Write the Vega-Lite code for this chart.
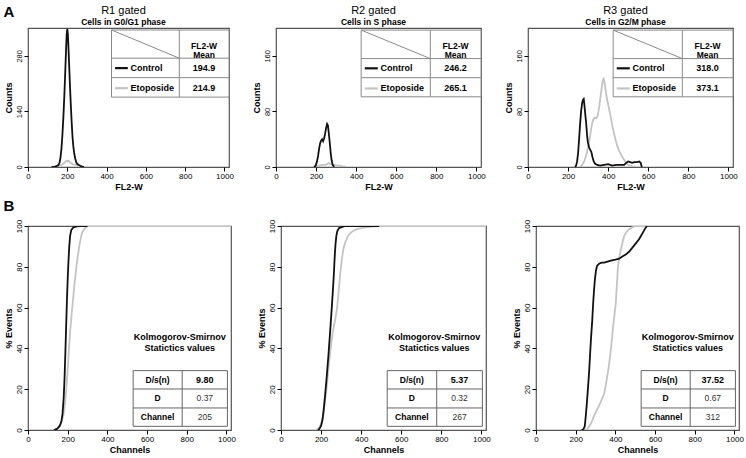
{
"$schema":"https://vega.github.io/schema/vega-lite/v6.json",
"padding":{"left":3,"top":3,"right":3,"bottom":2},
"spacing":6,
"datasets":{
"hist":[
{"p":"R1","s":"Control","x":120,"y":0},{"p":"R1","s":"Control","x":135,"y":1},{"p":"R1","s":"Control","x":145,"y":2},{"p":"R1","s":"Control","x":155,"y":5},{"p":"R1","s":"Control","x":160,"y":10},{"p":"R1","s":"Control","x":165,"y":22},{"p":"R1","s":"Control","x":170,"y":45},{"p":"R1","s":"Control","x":175,"y":80},{"p":"R1","s":"Control","x":180,"y":125},{"p":"R1","s":"Control","x":185,"y":180},{"p":"R1","s":"Control","x":190,"y":245},{"p":"R1","s":"Control","x":194,"y":300},{"p":"R1","s":"Control","x":197,"y":335},{"p":"R1","s":"Control","x":200,"y":348},{"p":"R1","s":"Control","x":203,"y":335},{"p":"R1","s":"Control","x":206,"y":300},{"p":"R1","s":"Control","x":210,"y":250},{"p":"R1","s":"Control","x":214,"y":200},{"p":"R1","s":"Control","x":218,"y":155},{"p":"R1","s":"Control","x":222,"y":115},{"p":"R1","s":"Control","x":226,"y":80},{"p":"R1","s":"Control","x":230,"y":55},{"p":"R1","s":"Control","x":235,"y":35},{"p":"R1","s":"Control","x":240,"y":22},{"p":"R1","s":"Control","x":245,"y":13},{"p":"R1","s":"Control","x":250,"y":8},{"p":"R1","s":"Control","x":258,"y":5},{"p":"R1","s":"Control","x":266,"y":3},{"p":"R1","s":"Control","x":275,"y":1},{"p":"R1","s":"Control","x":285,"y":0},
{"p":"R1","s":"Etoposide","x":140,"y":0},{"p":"R1","s":"Etoposide","x":150,"y":2},{"p":"R1","s":"Etoposide","x":160,"y":4},{"p":"R1","s":"Etoposide","x":170,"y":5},{"p":"R1","s":"Etoposide","x":180,"y":8},{"p":"R1","s":"Etoposide","x":188,"y":12},{"p":"R1","s":"Etoposide","x":195,"y":16},{"p":"R1","s":"Etoposide","x":200,"y":14},{"p":"R1","s":"Etoposide","x":205,"y":16},{"p":"R1","s":"Etoposide","x":210,"y":13},{"p":"R1","s":"Etoposide","x":218,"y":10},{"p":"R1","s":"Etoposide","x":225,"y":8},{"p":"R1","s":"Etoposide","x":235,"y":6},{"p":"R1","s":"Etoposide","x":245,"y":6},{"p":"R1","s":"Etoposide","x":255,"y":5},{"p":"R1","s":"Etoposide","x":265,"y":3},{"p":"R1","s":"Etoposide","x":275,"y":1},{"p":"R1","s":"Etoposide","x":285,"y":0},
{"p":"R2","s":"Control","x":190,"y":0},{"p":"R2","s":"Control","x":198,"y":2},{"p":"R2","s":"Control","x":204,"y":7},{"p":"R2","s":"Control","x":210,"y":16},{"p":"R2","s":"Control","x":215,"y":26},{"p":"R2","s":"Control","x":220,"y":34},{"p":"R2","s":"Control","x":225,"y":38},{"p":"R2","s":"Control","x":230,"y":40},{"p":"R2","s":"Control","x":235,"y":37},{"p":"R2","s":"Control","x":240,"y":41},{"p":"R2","s":"Control","x":245,"y":48},{"p":"R2","s":"Control","x":250,"y":56},{"p":"R2","s":"Control","x":255,"y":62},{"p":"R2","s":"Control","x":259,"y":60},{"p":"R2","s":"Control","x":263,"y":50},{"p":"R2","s":"Control","x":268,"y":36},{"p":"R2","s":"Control","x":273,"y":20},{"p":"R2","s":"Control","x":278,"y":9},{"p":"R2","s":"Control","x":283,"y":3},{"p":"R2","s":"Control","x":290,"y":0},
{"p":"R2","s":"Etoposide","x":185,"y":0},{"p":"R2","s":"Etoposide","x":200,"y":1},{"p":"R2","s":"Etoposide","x":215,"y":2},{"p":"R2","s":"Etoposide","x":230,"y":3},{"p":"R2","s":"Etoposide","x":245,"y":3},{"p":"R2","s":"Etoposide","x":255,"y":4},{"p":"R2","s":"Etoposide","x":262,"y":6},{"p":"R2","s":"Etoposide","x":268,"y":5},{"p":"R2","s":"Etoposide","x":275,"y":4},{"p":"R2","s":"Etoposide","x":285,"y":3},{"p":"R2","s":"Etoposide","x":295,"y":3},{"p":"R2","s":"Etoposide","x":305,"y":2},{"p":"R2","s":"Etoposide","x":320,"y":2},{"p":"R2","s":"Etoposide","x":335,"y":1},{"p":"R2","s":"Etoposide","x":350,"y":0},
{"p":"R3","s":"Control","x":235,"y":0},{"p":"R3","s":"Control","x":240,"y":2},{"p":"R3","s":"Control","x":245,"y":8},{"p":"R3","s":"Control","x":250,"y":20},{"p":"R3","s":"Control","x":255,"y":40},{"p":"R3","s":"Control","x":260,"y":62},{"p":"R3","s":"Control","x":265,"y":80},{"p":"R3","s":"Control","x":270,"y":92},{"p":"R3","s":"Control","x":275,"y":97},{"p":"R3","s":"Control","x":278,"y":98},{"p":"R3","s":"Control","x":282,"y":88},{"p":"R3","s":"Control","x":286,"y":75},{"p":"R3","s":"Control","x":290,"y":64},{"p":"R3","s":"Control","x":295,"y":45},{"p":"R3","s":"Control","x":299,"y":35},{"p":"R3","s":"Control","x":305,"y":28},{"p":"R3","s":"Control","x":310,"y":25},{"p":"R3","s":"Control","x":316,"y":22},{"p":"R3","s":"Control","x":322,"y":14},{"p":"R3","s":"Control","x":328,"y":8},{"p":"R3","s":"Control","x":334,"y":5},{"p":"R3","s":"Control","x":345,"y":3},{"p":"R3","s":"Control","x":360,"y":2},{"p":"R3","s":"Control","x":380,"y":3},{"p":"R3","s":"Control","x":400,"y":4},{"p":"R3","s":"Control","x":420,"y":2},{"p":"R3","s":"Control","x":440,"y":3},{"p":"R3","s":"Control","x":460,"y":3},{"p":"R3","s":"Control","x":480,"y":3},{"p":"R3","s":"Control","x":490,"y":6},{"p":"R3","s":"Control","x":500,"y":8},{"p":"R3","s":"Control","x":510,"y":7},{"p":"R3","s":"Control","x":520,"y":6},{"p":"R3","s":"Control","x":530,"y":7},{"p":"R3","s":"Control","x":545,"y":7},{"p":"R3","s":"Control","x":555,"y":8},{"p":"R3","s":"Control","x":562,"y":6},{"p":"R3","s":"Control","x":568,"y":0},
{"p":"R3","s":"Etoposide","x":260,"y":0},{"p":"R3","s":"Etoposide","x":270,"y":3},{"p":"R3","s":"Etoposide","x":280,"y":8},{"p":"R3","s":"Etoposide","x":290,"y":16},{"p":"R3","s":"Etoposide","x":300,"y":28},{"p":"R3","s":"Etoposide","x":310,"y":45},{"p":"R3","s":"Etoposide","x":318,"y":60},{"p":"R3","s":"Etoposide","x":325,"y":68},{"p":"R3","s":"Etoposide","x":332,"y":71},{"p":"R3","s":"Etoposide","x":340,"y":70},{"p":"R3","s":"Etoposide","x":348,"y":74},{"p":"R3","s":"Etoposide","x":356,"y":88},{"p":"R3","s":"Etoposide","x":362,"y":102},{"p":"R3","s":"Etoposide","x":368,"y":115},{"p":"R3","s":"Etoposide","x":374,"y":125},{"p":"R3","s":"Etoposide","x":378,"y":127},{"p":"R3","s":"Etoposide","x":384,"y":118},{"p":"R3","s":"Etoposide","x":390,"y":105},{"p":"R3","s":"Etoposide","x":396,"y":95},{"p":"R3","s":"Etoposide","x":403,"y":86},{"p":"R3","s":"Etoposide","x":410,"y":76},{"p":"R3","s":"Etoposide","x":417,"y":65},{"p":"R3","s":"Etoposide","x":424,"y":55},{"p":"R3","s":"Etoposide","x":431,"y":46},{"p":"R3","s":"Etoposide","x":438,"y":38},{"p":"R3","s":"Etoposide","x":446,"y":30},{"p":"R3","s":"Etoposide","x":454,"y":24},{"p":"R3","s":"Etoposide","x":462,"y":19},{"p":"R3","s":"Etoposide","x":470,"y":15},{"p":"R3","s":"Etoposide","x":478,"y":11},{"p":"R3","s":"Etoposide","x":487,"y":7},{"p":"R3","s":"Etoposide","x":497,"y":4},{"p":"R3","s":"Etoposide","x":508,"y":2},{"p":"R3","s":"Etoposide","x":522,"y":1},{"p":"R3","s":"Etoposide","x":540,"y":0}
],
"cum":[
{"p":"C1","s":"Control","x":130,"y":0},{"p":"C1","s":"Control","x":146,"y":0.5},{"p":"C1","s":"Control","x":160,"y":2},{"p":"C1","s":"Control","x":168,"y":4},{"p":"C1","s":"Control","x":174,"y":8},{"p":"C1","s":"Control","x":180,"y":16},{"p":"C1","s":"Control","x":184,"y":25},{"p":"C1","s":"Control","x":188,"y":37},{"p":"C1","s":"Control","x":192,"y":50},{"p":"C1","s":"Control","x":196,"y":63},{"p":"C1","s":"Control","x":200,"y":74},{"p":"C1","s":"Control","x":204,"y":83},{"p":"C1","s":"Control","x":208,"y":90},{"p":"C1","s":"Control","x":212,"y":95},{"p":"C1","s":"Control","x":218,"y":98},{"p":"C1","s":"Control","x":228,"y":99.3},{"p":"C1","s":"Control","x":245,"y":99.8},{"p":"C1","s":"Control","x":265,"y":100},{"p":"C1","s":"Control","x":300,"y":100},
{"p":"C1","s":"Etoposide","x":135,"y":0},{"p":"C1","s":"Etoposide","x":150,"y":1},{"p":"C1","s":"Etoposide","x":165,"y":3},{"p":"C1","s":"Etoposide","x":178,"y":7},{"p":"C1","s":"Etoposide","x":188,"y":14},{"p":"C1","s":"Etoposide","x":196,"y":24},{"p":"C1","s":"Etoposide","x":204,"y":36},{"p":"C1","s":"Etoposide","x":212,"y":48},{"p":"C1","s":"Etoposide","x":220,"y":57},{"p":"C1","s":"Etoposide","x":228,"y":65},{"p":"C1","s":"Etoposide","x":236,"y":73},{"p":"C1","s":"Etoposide","x":244,"y":80},{"p":"C1","s":"Etoposide","x":252,"y":86},{"p":"C1","s":"Etoposide","x":260,"y":91},{"p":"C1","s":"Etoposide","x":268,"y":95},{"p":"C1","s":"Etoposide","x":276,"y":97.5},{"p":"C1","s":"Etoposide","x":290,"y":99.3},{"p":"C1","s":"Etoposide","x":305,"y":100},{"p":"C1","s":"Etoposide","x":1023,"y":100},
{"p":"C2","s":"Control","x":185,"y":0},{"p":"C2","s":"Control","x":191,"y":0.5},{"p":"C2","s":"Control","x":200,"y":2},{"p":"C2","s":"Control","x":207,"y":5},{"p":"C2","s":"Control","x":212,"y":9},{"p":"C2","s":"Control","x":220,"y":17},{"p":"C2","s":"Control","x":228,"y":26},{"p":"C2","s":"Control","x":237,"y":37},{"p":"C2","s":"Control","x":245,"y":48},{"p":"C2","s":"Control","x":252,"y":58},{"p":"C2","s":"Control","x":258,"y":67},{"p":"C2","s":"Control","x":263,"y":75},{"p":"C2","s":"Control","x":268,"y":85},{"p":"C2","s":"Control","x":272,"y":91},{"p":"C2","s":"Control","x":276,"y":95},{"p":"C2","s":"Control","x":281,"y":97.5},{"p":"C2","s":"Control","x":290,"y":99},{"p":"C2","s":"Control","x":320,"y":100},{"p":"C2","s":"Control","x":490,"y":100},
{"p":"C2","s":"Etoposide","x":175,"y":0},{"p":"C2","s":"Etoposide","x":190,"y":1},{"p":"C2","s":"Etoposide","x":200,"y":3},{"p":"C2","s":"Etoposide","x":210,"y":7},{"p":"C2","s":"Etoposide","x":220,"y":14},{"p":"C2","s":"Etoposide","x":230,"y":23},{"p":"C2","s":"Etoposide","x":240,"y":33},{"p":"C2","s":"Etoposide","x":250,"y":42},{"p":"C2","s":"Etoposide","x":260,"y":49},{"p":"C2","s":"Etoposide","x":270,"y":54},{"p":"C2","s":"Etoposide","x":279,"y":59},{"p":"C2","s":"Etoposide","x":288,"y":68},{"p":"C2","s":"Etoposide","x":296,"y":77},{"p":"C2","s":"Etoposide","x":304,"y":84},{"p":"C2","s":"Etoposide","x":312,"y":89},{"p":"C2","s":"Etoposide","x":322,"y":92.5},{"p":"C2","s":"Etoposide","x":337,"y":95.5},{"p":"C2","s":"Etoposide","x":355,"y":97.3},{"p":"C2","s":"Etoposide","x":386,"y":98.7},{"p":"C2","s":"Etoposide","x":430,"y":99.5},{"p":"C2","s":"Etoposide","x":486,"y":100},{"p":"C2","s":"Etoposide","x":1023,"y":100},
{"p":"C3","s":"Control","x":230,"y":0},{"p":"C3","s":"Control","x":240,"y":0.5},{"p":"C3","s":"Control","x":246,"y":2},{"p":"C3","s":"Control","x":251,"y":7},{"p":"C3","s":"Control","x":257,"y":14},{"p":"C3","s":"Control","x":263,"y":22},{"p":"C3","s":"Control","x":268,"y":29},{"p":"C3","s":"Control","x":273,"y":38},{"p":"C3","s":"Control","x":278,"y":46},{"p":"C3","s":"Control","x":283,"y":53},{"p":"C3","s":"Control","x":288,"y":62},{"p":"C3","s":"Control","x":292,"y":68},{"p":"C3","s":"Control","x":297,"y":74},{"p":"C3","s":"Control","x":302,"y":78},{"p":"C3","s":"Control","x":308,"y":80.5},{"p":"C3","s":"Control","x":318,"y":81.5},{"p":"C3","s":"Control","x":330,"y":82},{"p":"C3","s":"Control","x":343,"y":82},{"p":"C3","s":"Control","x":360,"y":82.5},{"p":"C3","s":"Control","x":377,"y":83},{"p":"C3","s":"Control","x":400,"y":83.5},{"p":"C3","s":"Control","x":419,"y":84},{"p":"C3","s":"Control","x":435,"y":85},{"p":"C3","s":"Control","x":452,"y":86},{"p":"C3","s":"Control","x":470,"y":87.5},{"p":"C3","s":"Control","x":486,"y":89.4},{"p":"C3","s":"Control","x":503,"y":91.5},{"p":"C3","s":"Control","x":520,"y":93.6},{"p":"C3","s":"Control","x":537,"y":96.5},{"p":"C3","s":"Control","x":553,"y":99.3},{"p":"C3","s":"Control","x":560,"y":100},
{"p":"C3","s":"Etoposide","x":248,"y":0},{"p":"C3","s":"Etoposide","x":258,"y":0.5},{"p":"C3","s":"Etoposide","x":270,"y":2},{"p":"C3","s":"Etoposide","x":283,"y":4.5},{"p":"C3","s":"Etoposide","x":293,"y":7},{"p":"C3","s":"Etoposide","x":305,"y":9.5},{"p":"C3","s":"Etoposide","x":318,"y":12},{"p":"C3","s":"Etoposide","x":332,"y":15},{"p":"C3","s":"Etoposide","x":344,"y":18},{"p":"C3","s":"Etoposide","x":355,"y":24},{"p":"C3","s":"Etoposide","x":365,"y":30},{"p":"C3","s":"Etoposide","x":372,"y":35},{"p":"C3","s":"Etoposide","x":380,"y":42},{"p":"C3","s":"Etoposide","x":388,"y":50},{"p":"C3","s":"Etoposide","x":396,"y":57},{"p":"C3","s":"Etoposide","x":402,"y":62},{"p":"C3","s":"Etoposide","x":408,"y":72},{"p":"C3","s":"Etoposide","x":413,"y":80},{"p":"C3","s":"Etoposide","x":420,"y":85},{"p":"C3","s":"Etoposide","x":427,"y":88},{"p":"C3","s":"Etoposide","x":436,"y":92},{"p":"C3","s":"Etoposide","x":444,"y":95},{"p":"C3","s":"Etoposide","x":456,"y":97},{"p":"C3","s":"Etoposide","x":469,"y":98.4},{"p":"C3","s":"Etoposide","x":485,"y":99.3},{"p":"C3","s":"Etoposide","x":502,"y":100},{"p":"C3","s":"Etoposide","x":560,"y":100}
],
"meanTab":[
{"p":"R1","s":"Control","m":"194.9"},{"p":"R1","s":"Etoposide","m":"214.9"},
{"p":"R2","s":"Control","m":"246.2"},{"p":"R2","s":"Etoposide","m":"265.1"},
{"p":"R3","s":"Control","m":"318.0"},{"p":"R3","s":"Etoposide","m":"373.1"}
],
"ksTab":[
{"p":"C1","k":"D/s(n)","v":"9.80"},{"p":"C1","k":"D","v":"0.37"},{"p":"C1","k":"Channel","v":"205"},
{"p":"C2","k":"D/s(n)","v":"5.37"},{"p":"C2","k":"D","v":"0.32"},{"p":"C2","k":"Channel","v":"267"},
{"p":"C3","k":"D/s(n)","v":"37.52"},{"p":"C3","k":"D","v":"0.67"},{"p":"C3","k":"Channel","v":"312"}
]
},
"vconcat":[
{
"title":{"text":"A","anchor":"start","fontSize":15,"fontWeight":"bold","frame":"bounds","dx":0,"dy":16,"offset":0},
"spacing":17,
"hconcat":[
{
"width":201,"height":139,
"title":{"text":"R1 gated","subtitle":"Cells in G0/G1 phase"},
"layer":[
{"data":{"name":"hist"},"transform":[{"filter":"datum.p==='R1' && datum.s==='Etoposide'"}],"mark":{"type":"line","color":"#c4c4c4","strokeWidth":1.8,"clip":true},
"encoding":{
"x":{"field":"x","type":"quantitative","scale":{"domain":[0,1023],"nice":false,"zero":false},"axis":{"title":"FL2-W","format":"d","values":[0,50,100,150,200,250,300,350,400,450,500,550,600,650,700,750,800,850,900,950,1000],"labelExpr":"datum.value % 200 === 0 ? datum.label : ''","tickSize":{"condition":{"test":"datum.value % 200 === 0","value":4},"value":2.5}}},
"y":{"field":"y","type":"quantitative","scale":{"domain":[0,350],"nice":false},"axis":{"title":"Counts","format":"d","labelFontSize":7.5,"values":[0,70,140,210,280,350],"tickSize":4}}}},
{"data":{"name":"hist"},"transform":[{"filter":"datum.p==='R1' && datum.s==='Control'"}],"mark":{"type":"line","color":"#111111","strokeWidth":1.8,"clip":true},"encoding":{"x":{"field":"x","type":"quantitative"},"y":{"field":"y","type":"quantitative"}}},
{"data":{"values":[{}]},"mark":{"type":"rect","fill":"#ffffff","stroke":"#8a8a8a","strokeWidth":1},"encoding":{"x":{"datum":425},"x2":{"datum":1023},"y":{"datum":345},"y2":{"datum":176}}},
{"data":{"values":[{}]},"mark":{"type":"rule","stroke":"#8a8a8a","strokeWidth":1},"encoding":{"x":{"datum":425},"x2":{"datum":1023},"y":{"datum":274}}},
{"data":{"values":[{}]},"mark":{"type":"rule","stroke":"#8a8a8a","strokeWidth":1},"encoding":{"x":{"datum":425},"x2":{"datum":1023},"y":{"datum":225}}},
{"data":{"values":[{}]},"mark":{"type":"rule","stroke":"#8a8a8a","strokeWidth":1},"encoding":{"x":{"datum":770},"y":{"datum":345},"y2":{"datum":176}}},
{"data":{"values":[{}]},"mark":{"type":"rule","stroke":"#8a8a8a","strokeWidth":1},"encoding":{"x":{"datum":425},"x2":{"datum":770},"y":{"datum":345},"y2":{"datum":274}}},
{"data":{"values":[{}]},"mark":{"type":"text","text":["FL2-W","Mean"],"fontWeight":"bold","fontSize":8.5,"lineHeight":8.5,"baseline":"middle","align":"center"},"encoding":{"x":{"datum":896},"y":{"datum":304}}},
{"data":{"values":[{}]},"mark":{"type":"rule","stroke":"#111111","strokeWidth":2.2},"encoding":{"x":{"datum":443},"x2":{"datum":508},"y":{"datum":249}}},
{"data":{"values":[{}]},"mark":{"type":"rule","stroke":"#c4c4c4","strokeWidth":2.2},"encoding":{"x":{"datum":443},"x2":{"datum":508},"y":{"datum":198.5}}},
{"data":{"name":"meanTab"},"transform":[{"filter":"datum.p==='R1' && datum.s==='Control'"}],"mark":{"type":"text","align":"left","baseline":"middle","fontWeight":"bold","fontSize":9},"encoding":{"x":{"datum":522},"y":{"datum":249},"text":{"field":"s"}}},
{"data":{"name":"meanTab"},"transform":[{"filter":"datum.p==='R1' && datum.s==='Control'"}],"mark":{"type":"text","align":"center","baseline":"middle","fontWeight":"bold","fontSize":9},"encoding":{"x":{"datum":896},"y":{"datum":249},"text":{"field":"m"}}},
{"data":{"name":"meanTab"},"transform":[{"filter":"datum.p==='R1' && datum.s==='Etoposide'"}],"mark":{"type":"text","align":"left","baseline":"middle","fontWeight":"bold","fontSize":9},"encoding":{"x":{"datum":522},"y":{"datum":198.5},"text":{"field":"s"}}},
{"data":{"name":"meanTab"},"transform":[{"filter":"datum.p==='R1' && datum.s==='Etoposide'"}],"mark":{"type":"text","align":"center","baseline":"middle","fontWeight":"bold","fontSize":9},"encoding":{"x":{"datum":896},"y":{"datum":198.5},"text":{"field":"m"}}}
]
},
{
"width":205,"height":139,
"title":{"text":"R2 gated","subtitle":"Cells in S phase"},
"layer":[
{"data":{"name":"hist"},"transform":[{"filter":"datum.p==='R2' && datum.s==='Etoposide'"}],"mark":{"type":"line","color":"#c4c4c4","strokeWidth":1.8,"clip":true},
"encoding":{
"x":{"field":"x","type":"quantitative","scale":{"domain":[0,1023],"nice":false,"zero":false},"axis":{"title":"FL2-W","format":"d","values":[0,50,100,150,200,250,300,350,400,450,500,550,600,650,700,750,800,850,900,950,1000],"labelExpr":"datum.value % 200 === 0 ? datum.label : ''","tickSize":{"condition":{"test":"datum.value % 200 === 0","value":4},"value":2.5}}},
"y":{"field":"y","type":"quantitative","scale":{"domain":[0,200],"nice":false},"axis":{"title":"Counts","format":"d","labelFontSize":7.5,"values":[0,40,80,120,160,200],"tickSize":4}}}},
{"data":{"name":"hist"},"transform":[{"filter":"datum.p==='R2' && datum.s==='Control'"}],"mark":{"type":"line","color":"#111111","strokeWidth":1.8,"clip":true},"encoding":{"x":{"field":"x","type":"quantitative"},"y":{"field":"y","type":"quantitative"}}},
{"data":{"values":[{}]},"mark":{"type":"rect","fill":"#ffffff","stroke":"#8a8a8a","strokeWidth":1},"encoding":{"x":{"datum":425},"x2":{"datum":1023},"y":{"datum":197},"y2":{"datum":101}}},
{"data":{"values":[{}]},"mark":{"type":"rule","stroke":"#8a8a8a","strokeWidth":1},"encoding":{"x":{"datum":425},"x2":{"datum":1023},"y":{"datum":156}}},
{"data":{"values":[{}]},"mark":{"type":"rule","stroke":"#8a8a8a","strokeWidth":1},"encoding":{"x":{"datum":425},"x2":{"datum":1023},"y":{"datum":128.5}}},
{"data":{"values":[{}]},"mark":{"type":"rule","stroke":"#8a8a8a","strokeWidth":1},"encoding":{"x":{"datum":770},"y":{"datum":197},"y2":{"datum":101}}},
{"data":{"values":[{}]},"mark":{"type":"rule","stroke":"#8a8a8a","strokeWidth":1},"encoding":{"x":{"datum":425},"x2":{"datum":770},"y":{"datum":197},"y2":{"datum":156}}},
{"data":{"values":[{}]},"mark":{"type":"text","text":["FL2-W","Mean"],"fontWeight":"bold","fontSize":8.5,"lineHeight":8.5,"baseline":"middle","align":"center"},"encoding":{"x":{"datum":896},"y":{"datum":173.5}}},
{"data":{"values":[{}]},"mark":{"type":"rule","stroke":"#111111","strokeWidth":2.2},"encoding":{"x":{"datum":443},"x2":{"datum":508},"y":{"datum":142}}},
{"data":{"values":[{}]},"mark":{"type":"rule","stroke":"#c4c4c4","strokeWidth":2.2},"encoding":{"x":{"datum":443},"x2":{"datum":508},"y":{"datum":113}}},
{"data":{"name":"meanTab"},"transform":[{"filter":"datum.p==='R2' && datum.s==='Control'"}],"mark":{"type":"text","align":"left","baseline":"middle","fontWeight":"bold","fontSize":9},"encoding":{"x":{"datum":522},"y":{"datum":142},"text":{"field":"s"}}},
{"data":{"name":"meanTab"},"transform":[{"filter":"datum.p==='R2' && datum.s==='Control'"}],"mark":{"type":"text","align":"center","baseline":"middle","fontWeight":"bold","fontSize":9},"encoding":{"x":{"datum":896},"y":{"datum":142},"text":{"field":"m"}}},
{"data":{"name":"meanTab"},"transform":[{"filter":"datum.p==='R2' && datum.s==='Etoposide'"}],"mark":{"type":"text","align":"left","baseline":"middle","fontWeight":"bold","fontSize":9},"encoding":{"x":{"datum":522},"y":{"datum":113},"text":{"field":"s"}}},
{"data":{"name":"meanTab"},"transform":[{"filter":"datum.p==='R2' && datum.s==='Etoposide'"}],"mark":{"type":"text","align":"center","baseline":"middle","fontWeight":"bold","fontSize":9},"encoding":{"x":{"datum":896},"y":{"datum":113},"text":{"field":"m"}}}
]
},
{
"width":205,"height":139,
"title":{"text":"R3 gated","subtitle":"Cells in G2/M phase"},
"layer":[
{"data":{"name":"hist"},"transform":[{"filter":"datum.p==='R3' && datum.s==='Etoposide'"}],"mark":{"type":"line","color":"#c4c4c4","strokeWidth":1.8,"clip":true},
"encoding":{
"x":{"field":"x","type":"quantitative","scale":{"domain":[0,1023],"nice":false,"zero":false},"axis":{"title":"FL2-W","format":"d","values":[0,50,100,150,200,250,300,350,400,450,500,550,600,650,700,750,800,850,900,950,1000],"labelExpr":"datum.value % 200 === 0 ? datum.label : ''","tickSize":{"condition":{"test":"datum.value % 200 === 0","value":4},"value":2.5}}},
"y":{"field":"y","type":"quantitative","scale":{"domain":[0,200],"nice":false},"axis":{"title":"Counts","format":"d","labelFontSize":7.5,"values":[0,40,80,120,160,200],"tickSize":4}}}},
{"data":{"name":"hist"},"transform":[{"filter":"datum.p==='R3' && datum.s==='Control'"}],"mark":{"type":"line","color":"#111111","strokeWidth":1.8,"clip":true},"encoding":{"x":{"field":"x","type":"quantitative"},"y":{"field":"y","type":"quantitative"}}},
{"data":{"values":[{}]},"mark":{"type":"rect","fill":"#ffffff","stroke":"#8a8a8a","strokeWidth":1},"encoding":{"x":{"datum":425},"x2":{"datum":1023},"y":{"datum":197},"y2":{"datum":101}}},
{"data":{"values":[{}]},"mark":{"type":"rule","stroke":"#8a8a8a","strokeWidth":1},"encoding":{"x":{"datum":425},"x2":{"datum":1023},"y":{"datum":156}}},
{"data":{"values":[{}]},"mark":{"type":"rule","stroke":"#8a8a8a","strokeWidth":1},"encoding":{"x":{"datum":425},"x2":{"datum":1023},"y":{"datum":128.5}}},
{"data":{"values":[{}]},"mark":{"type":"rule","stroke":"#8a8a8a","strokeWidth":1},"encoding":{"x":{"datum":770},"y":{"datum":197},"y2":{"datum":101}}},
{"data":{"values":[{}]},"mark":{"type":"rule","stroke":"#8a8a8a","strokeWidth":1},"encoding":{"x":{"datum":425},"x2":{"datum":770},"y":{"datum":197},"y2":{"datum":156}}},
{"data":{"values":[{}]},"mark":{"type":"text","text":["FL2-W","Mean"],"fontWeight":"bold","fontSize":8.5,"lineHeight":8.5,"baseline":"middle","align":"center"},"encoding":{"x":{"datum":896},"y":{"datum":173.5}}},
{"data":{"values":[{}]},"mark":{"type":"rule","stroke":"#111111","strokeWidth":2.2},"encoding":{"x":{"datum":443},"x2":{"datum":508},"y":{"datum":142}}},
{"data":{"values":[{}]},"mark":{"type":"rule","stroke":"#c4c4c4","strokeWidth":2.2},"encoding":{"x":{"datum":443},"x2":{"datum":508},"y":{"datum":113}}},
{"data":{"name":"meanTab"},"transform":[{"filter":"datum.p==='R3' && datum.s==='Control'"}],"mark":{"type":"text","align":"left","baseline":"middle","fontWeight":"bold","fontSize":9},"encoding":{"x":{"datum":522},"y":{"datum":142},"text":{"field":"s"}}},
{"data":{"name":"meanTab"},"transform":[{"filter":"datum.p==='R3' && datum.s==='Control'"}],"mark":{"type":"text","align":"center","baseline":"middle","fontWeight":"bold","fontSize":9},"encoding":{"x":{"datum":896},"y":{"datum":142},"text":{"field":"m"}}},
{"data":{"name":"meanTab"},"transform":[{"filter":"datum.p==='R3' && datum.s==='Etoposide'"}],"mark":{"type":"text","align":"left","baseline":"middle","fontWeight":"bold","fontSize":9},"encoding":{"x":{"datum":522},"y":{"datum":113},"text":{"field":"s"}}},
{"data":{"name":"meanTab"},"transform":[{"filter":"datum.p==='R3' && datum.s==='Etoposide'"}],"mark":{"type":"text","align":"center","baseline":"middle","fontWeight":"bold","fontSize":9},"encoding":{"x":{"datum":896},"y":{"datum":113},"text":{"field":"m"}}}
]
}
]
},
{
"title":{"text":"B","anchor":"start","fontSize":15,"fontWeight":"bold","frame":"bounds","dx":0,"offset":5},
"spacing":20,
"hconcat":[
{
"width":203,"height":204,
"layer":[
{"data":{"name":"cum"},"transform":[{"filter":"datum.p==='C1' && datum.s==='Etoposide'"}],"mark":{"type":"line","color":"#c4c4c4","strokeWidth":1.8,"clip":true},
"encoding":{
"x":{"field":"x","type":"quantitative","scale":{"domain":[0,1023],"nice":false,"zero":false},"axis":{"title":"Channels","format":"d","values":[0,50,100,150,200,250,300,350,400,450,500,550,600,650,700,750,800,850,900,950,1000],"labelExpr":"datum.value % 200 === 0 ? datum.label : ''","tickSize":{"condition":{"test":"datum.value % 200 === 0","value":4},"value":2.5}}},
"y":{"field":"y","type":"quantitative","scale":{"domain":[0,100],"nice":false},"axis":{"title":"% Events","format":"d","values":[0,20,40,60,80,100],"tickSize":4}}}},
{"data":{"name":"cum"},"transform":[{"filter":"datum.p==='C1' && datum.s==='Control'"}],"mark":{"type":"line","color":"#111111","strokeWidth":1.8,"clip":true},"encoding":{"x":{"field":"x","type":"quantitative"},"y":{"field":"y","type":"quantitative"}}},
{"data":{"values":[{}]},"mark":{"type":"text","text":["Kolmogorov-Smirnov","Statictics values"],"fontWeight":"bold","fontSize":9,"lineHeight":10.5,"baseline":"middle","align":"center"},"encoding":{"x":{"datum":765},"y":{"datum":45.5}}},
{"data":{"values":[{}]},"mark":{"type":"rect","fill":"#ffffff","stroke":"#666666","strokeWidth":1},"encoding":{"x":{"datum":530},"x2":{"datum":1005},"y":{"datum":29.1},"y2":{"datum":1.8}}},
{"data":{"values":[{}]},"mark":{"type":"rule","stroke":"#666666","strokeWidth":1},"encoding":{"x":{"datum":530},"x2":{"datum":1005},"y":{"datum":20.1}}},
{"data":{"values":[{}]},"mark":{"type":"rule","stroke":"#666666","strokeWidth":1},"encoding":{"x":{"datum":530},"x2":{"datum":1005},"y":{"datum":10.8}}},
{"data":{"values":[{}]},"mark":{"type":"rule","stroke":"#666666","strokeWidth":1},"encoding":{"x":{"datum":777},"y":{"datum":29.1},"y2":{"datum":1.8}}},
{"data":{"name":"ksTab"},"transform":[{"filter":"datum.p==='C1' && datum.k==='D/s(n)'"}],"mark":{"type":"text","align":"center","baseline":"middle","fontWeight":"bold","fontSize":8.5},"encoding":{"x":{"datum":653},"y":{"datum":24.6},"text":{"field":"k"}}},
{"data":{"name":"ksTab"},"transform":[{"filter":"datum.p==='C1' && datum.k==='D/s(n)'"}],"mark":{"type":"text","align":"center","baseline":"middle","fontWeight":"bold","fontSize":9},"encoding":{"x":{"datum":891},"y":{"datum":24.6},"text":{"field":"v"}}},
{"data":{"name":"ksTab"},"transform":[{"filter":"datum.p==='C1' && datum.k==='D'"}],"mark":{"type":"text","align":"center","baseline":"middle","fontWeight":"bold","fontSize":8.5},"encoding":{"x":{"datum":653},"y":{"datum":15.5},"text":{"field":"k"}}},
{"data":{"name":"ksTab"},"transform":[{"filter":"datum.p==='C1' && datum.k==='D'"}],"mark":{"type":"text","align":"center","baseline":"middle","fontSize":8.5,"color":"#333333"},"encoding":{"x":{"datum":891},"y":{"datum":15.5},"text":{"field":"v"}}},
{"data":{"name":"ksTab"},"transform":[{"filter":"datum.p==='C1' && datum.k==='Channel'"}],"mark":{"type":"text","align":"center","baseline":"middle","fontWeight":"bold","fontSize":8.5},"encoding":{"x":{"datum":653},"y":{"datum":6.4},"text":{"field":"k"}}},
{"data":{"name":"ksTab"},"transform":[{"filter":"datum.p==='C1' && datum.k==='Channel'"}],"mark":{"type":"text","align":"center","baseline":"middle","fontSize":8.5,"color":"#333333"},"encoding":{"x":{"datum":891},"y":{"datum":6.4},"text":{"field":"v"}}}
]
},
{
"width":205,"height":204,
"layer":[
{"data":{"name":"cum"},"transform":[{"filter":"datum.p==='C2' && datum.s==='Etoposide'"}],"mark":{"type":"line","color":"#c4c4c4","strokeWidth":1.8,"clip":true},
"encoding":{
"x":{"field":"x","type":"quantitative","scale":{"domain":[0,1023],"nice":false,"zero":false},"axis":{"title":"Channels","format":"d","values":[0,50,100,150,200,250,300,350,400,450,500,550,600,650,700,750,800,850,900,950,1000],"labelExpr":"datum.value % 200 === 0 ? datum.label : ''","tickSize":{"condition":{"test":"datum.value % 200 === 0","value":4},"value":2.5}}},
"y":{"field":"y","type":"quantitative","scale":{"domain":[0,100],"nice":false},"axis":{"title":"% Events","format":"d","values":[0,20,40,60,80,100],"tickSize":4}}}},
{"data":{"name":"cum"},"transform":[{"filter":"datum.p==='C2' && datum.s==='Control'"}],"mark":{"type":"line","color":"#111111","strokeWidth":1.8,"clip":true},"encoding":{"x":{"field":"x","type":"quantitative"},"y":{"field":"y","type":"quantitative"}}},
{"data":{"values":[{}]},"mark":{"type":"text","text":["Kolmogorov-Smirnov","Statictics values"],"fontWeight":"bold","fontSize":9,"lineHeight":10.5,"baseline":"middle","align":"center"},"encoding":{"x":{"datum":765},"y":{"datum":45.5}}},
{"data":{"values":[{}]},"mark":{"type":"rect","fill":"#ffffff","stroke":"#666666","strokeWidth":1},"encoding":{"x":{"datum":530},"x2":{"datum":1005},"y":{"datum":29.1},"y2":{"datum":1.8}}},
{"data":{"values":[{}]},"mark":{"type":"rule","stroke":"#666666","strokeWidth":1},"encoding":{"x":{"datum":530},"x2":{"datum":1005},"y":{"datum":20.1}}},
{"data":{"values":[{}]},"mark":{"type":"rule","stroke":"#666666","strokeWidth":1},"encoding":{"x":{"datum":530},"x2":{"datum":1005},"y":{"datum":10.8}}},
{"data":{"values":[{}]},"mark":{"type":"rule","stroke":"#666666","strokeWidth":1},"encoding":{"x":{"datum":777},"y":{"datum":29.1},"y2":{"datum":1.8}}},
{"data":{"name":"ksTab"},"transform":[{"filter":"datum.p==='C2' && datum.k==='D/s(n)'"}],"mark":{"type":"text","align":"center","baseline":"middle","fontWeight":"bold","fontSize":8.5},"encoding":{"x":{"datum":653},"y":{"datum":24.6},"text":{"field":"k"}}},
{"data":{"name":"ksTab"},"transform":[{"filter":"datum.p==='C2' && datum.k==='D/s(n)'"}],"mark":{"type":"text","align":"center","baseline":"middle","fontWeight":"bold","fontSize":9},"encoding":{"x":{"datum":891},"y":{"datum":24.6},"text":{"field":"v"}}},
{"data":{"name":"ksTab"},"transform":[{"filter":"datum.p==='C2' && datum.k==='D'"}],"mark":{"type":"text","align":"center","baseline":"middle","fontWeight":"bold","fontSize":8.5},"encoding":{"x":{"datum":653},"y":{"datum":15.5},"text":{"field":"k"}}},
{"data":{"name":"ksTab"},"transform":[{"filter":"datum.p==='C2' && datum.k==='D'"}],"mark":{"type":"text","align":"center","baseline":"middle","fontSize":8.5,"color":"#333333"},"encoding":{"x":{"datum":891},"y":{"datum":15.5},"text":{"field":"v"}}},
{"data":{"name":"ksTab"},"transform":[{"filter":"datum.p==='C2' && datum.k==='Channel'"}],"mark":{"type":"text","align":"center","baseline":"middle","fontWeight":"bold","fontSize":8.5},"encoding":{"x":{"datum":653},"y":{"datum":6.4},"text":{"field":"k"}}},
{"data":{"name":"ksTab"},"transform":[{"filter":"datum.p==='C2' && datum.k==='Channel'"}],"mark":{"type":"text","align":"center","baseline":"middle","fontSize":8.5,"color":"#333333"},"encoding":{"x":{"datum":891},"y":{"datum":6.4},"text":{"field":"v"}}}
]
},
{
"width":203,"height":204,
"layer":[
{"data":{"name":"cum"},"transform":[{"filter":"datum.p==='C3' && datum.s==='Etoposide'"}],"mark":{"type":"line","color":"#c4c4c4","strokeWidth":1.8,"clip":true},
"encoding":{
"x":{"field":"x","type":"quantitative","scale":{"domain":[0,1023],"nice":false,"zero":false},"axis":{"title":"Channels","format":"d","values":[0,50,100,150,200,250,300,350,400,450,500,550,600,650,700,750,800,850,900,950,1000],"labelExpr":"datum.value % 200 === 0 ? datum.label : ''","tickSize":{"condition":{"test":"datum.value % 200 === 0","value":4},"value":2.5}}},
"y":{"field":"y","type":"quantitative","scale":{"domain":[0,100],"nice":false},"axis":{"title":"% Events","format":"d","values":[0,20,40,60,80,100],"tickSize":4}}}},
{"data":{"name":"cum"},"transform":[{"filter":"datum.p==='C3' && datum.s==='Control'"}],"mark":{"type":"line","color":"#111111","strokeWidth":1.8,"clip":true},"encoding":{"x":{"field":"x","type":"quantitative"},"y":{"field":"y","type":"quantitative"}}},
{"data":{"values":[{}]},"mark":{"type":"text","text":["Kolmogorov-Smirnov","Statictics values"],"fontWeight":"bold","fontSize":9,"lineHeight":10.5,"baseline":"middle","align":"center"},"encoding":{"x":{"datum":765},"y":{"datum":45.5}}},
{"data":{"values":[{}]},"mark":{"type":"rect","fill":"#ffffff","stroke":"#666666","strokeWidth":1},"encoding":{"x":{"datum":530},"x2":{"datum":1005},"y":{"datum":29.1},"y2":{"datum":1.8}}},
{"data":{"values":[{}]},"mark":{"type":"rule","stroke":"#666666","strokeWidth":1},"encoding":{"x":{"datum":530},"x2":{"datum":1005},"y":{"datum":20.1}}},
{"data":{"values":[{}]},"mark":{"type":"rule","stroke":"#666666","strokeWidth":1},"encoding":{"x":{"datum":530},"x2":{"datum":1005},"y":{"datum":10.8}}},
{"data":{"values":[{}]},"mark":{"type":"rule","stroke":"#666666","strokeWidth":1},"encoding":{"x":{"datum":777},"y":{"datum":29.1},"y2":{"datum":1.8}}},
{"data":{"name":"ksTab"},"transform":[{"filter":"datum.p==='C3' && datum.k==='D/s(n)'"}],"mark":{"type":"text","align":"center","baseline":"middle","fontWeight":"bold","fontSize":8.5},"encoding":{"x":{"datum":653},"y":{"datum":24.6},"text":{"field":"k"}}},
{"data":{"name":"ksTab"},"transform":[{"filter":"datum.p==='C3' && datum.k==='D/s(n)'"}],"mark":{"type":"text","align":"center","baseline":"middle","fontWeight":"bold","fontSize":9},"encoding":{"x":{"datum":891},"y":{"datum":24.6},"text":{"field":"v"}}},
{"data":{"name":"ksTab"},"transform":[{"filter":"datum.p==='C3' && datum.k==='D'"}],"mark":{"type":"text","align":"center","baseline":"middle","fontWeight":"bold","fontSize":8.5},"encoding":{"x":{"datum":653},"y":{"datum":15.5},"text":{"field":"k"}}},
{"data":{"name":"ksTab"},"transform":[{"filter":"datum.p==='C3' && datum.k==='D'"}],"mark":{"type":"text","align":"center","baseline":"middle","fontSize":8.5,"color":"#333333"},"encoding":{"x":{"datum":891},"y":{"datum":15.5},"text":{"field":"v"}}},
{"data":{"name":"ksTab"},"transform":[{"filter":"datum.p==='C3' && datum.k==='Channel'"}],"mark":{"type":"text","align":"center","baseline":"middle","fontWeight":"bold","fontSize":8.5},"encoding":{"x":{"datum":653},"y":{"datum":6.4},"text":{"field":"k"}}},
{"data":{"name":"ksTab"},"transform":[{"filter":"datum.p==='C3' && datum.k==='Channel'"}],"mark":{"type":"text","align":"center","baseline":"middle","fontSize":8.5,"color":"#333333"},"encoding":{"x":{"datum":891},"y":{"datum":6.4},"text":{"field":"v"}}}
]
}
]
}
],
"config":{
"font":"Liberation Sans",
"view":{"stroke":"#555555","strokeWidth":1.2},
"text":{"font":"Liberation Sans","color":"#000000"},
"axis":{"domain":false,"grid":false,"labelFont":"Liberation Sans","labelFontSize":8,"labelColor":"#000000","tickColor":"#000000","tickWidth":1,"titleFont":"Liberation Sans","titleFontSize":9,"titleFontWeight":"bold","titleColor":"#000000","labelFlush":false,"labelPadding":1,"titlePadding":2},
"axisY":{"labelAngle":270},
"title":{"font":"Liberation Sans","fontSize":11,"fontWeight":"normal","color":"#000000","subtitleFont":"Liberation Sans","subtitleFontSize":8.5,"subtitleFontWeight":"bold","subtitleColor":"#000000","subtitlePadding":2,"offset":2,"frame":"group","dx":-5}
}
}
